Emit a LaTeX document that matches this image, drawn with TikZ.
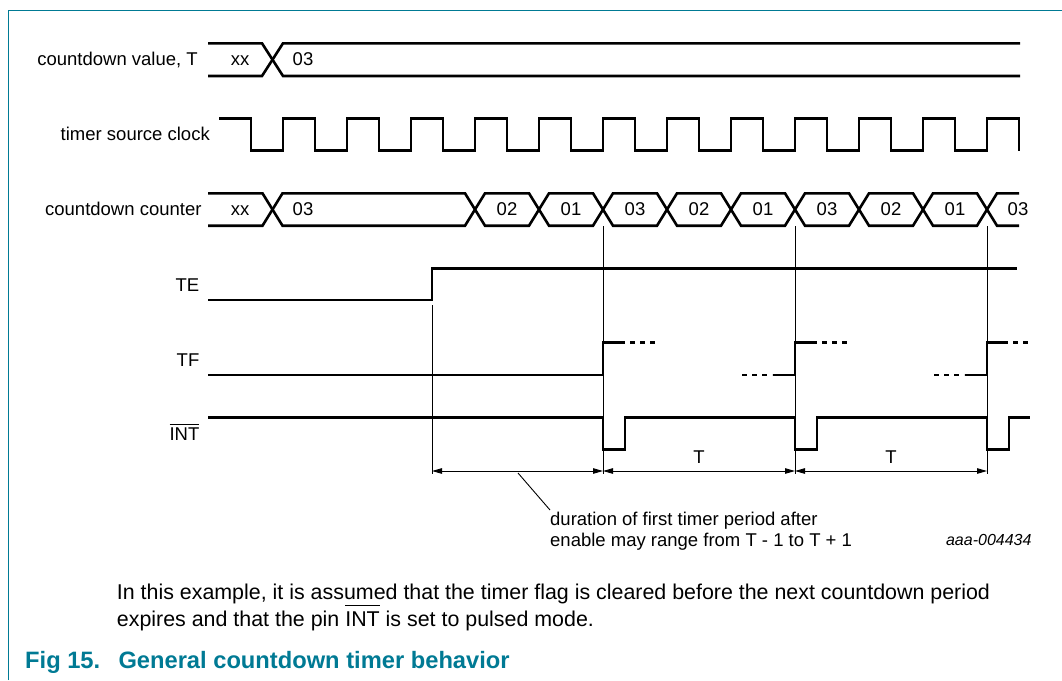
\documentclass[tikz,border=0pt]{standalone}
\usepackage{fontspec}
\setmainfont{Liberation Sans}
\usetikzlibrary{arrows.meta}
\definecolor{nxpteal}{RGB}{0,122,148}
\newcommand\ovl[2][1.8pt]{\leavevmode\vbox{\hrule height 1.1pt\kern #1\hbox{#2}}}
\begin{document}
\begin{tikzpicture}[x=1pt,y=-1pt,
  sig/.style={line width=2.6pt, line join=miter},
  thinline/.style={line width=0.9pt},
  lab/.style={font=\fontsize{18.5}{22}\selectfont, inner sep=0pt, anchor=base east},
  val/.style={font=\fontsize{18.5}{22}\selectfont, inner sep=0pt, anchor=base},
  note/.style={font=\fontsize{18.5}{22}\selectfont, inner sep=0pt, anchor=base west},
  body/.style={font=\fontsize{21.4}{25}\selectfont, inner sep=0pt, anchor=base west},
  figcaption/.style={font=\fontsize{23.7}{28}\selectfont\bfseries, text=nxpteal, inner sep=0pt, anchor=base west},
  dimarrow/.style={line width=0.9pt, {Triangle[length=10pt,width=5.5pt]}-{Triangle[length=10pt,width=5.5pt]}},
  dsh/.style={line width=2.6pt, dash pattern=on 5pt off 5pt},
]
\useasboundingbox (0,0) rectangle (1062,680);
% frame
\draw[nxpteal, line width=1.5pt] (8.5,680) -- (8.5,10.7) -- (1062,10.7);

% labels
\node[lab] (lval) at (198,65.5) {countdown value, T};
\node[lab] (lclk) at (210,140) {timer source clock};
\node[lab] (lcnt) at (201.7,215) {countdown counter};
\node[lab] (lte) at (199.5,291) {TE};
\node[lab] (ltf) at (199.5,366) {TF};
\node[lab] (lint) at (199.5,440) {\ovl{INT}};

% countdown value bus
\draw[sig] (208,43.3) -- (262,43.3) -- (283,76) -- (1020,76);
\draw[sig] (208,76) -- (262,76) -- (283,43.3) -- (1020,43.3);
\node[val] (vxx) at (240,65) {xx};
\node[val] (v03) at (303,65) {03};

% clock
\draw[sig] (219,118.3) foreach \k in {0,...,11} { -- (251+64*\k,118.3) -- (251+64*\k,150.7) -- (283+64*\k,150.7) -- (283+64*\k,118.3) } -- (1019,118.3) -- (1019,150.7);

% countdown counter bus
\draw[sig] (208,193.3) -- (262.5,193.3) -- (282.5,225.7) -- (465,225.7) -- (485,193.3) -- (529,193.3) -- (549,225.7) -- (593,225.7) -- (613,193.3) -- (657,193.3) -- (677,225.7) -- (721,225.7) -- (741,193.3) -- (785,193.3) -- (805,225.7) -- (849,225.7) -- (869,193.3) -- (913,193.3) -- (933,225.7) -- (977,225.7) -- (997,193.3) -- (1019,193.3);
\draw[sig] (208,225.7) -- (262.5,225.7) -- (282.5,193.3) -- (465,193.3) -- (485,225.7) -- (529,225.7) -- (549,193.3) -- (593,193.3) -- (613,225.7) -- (657,225.7) -- (677,193.3) -- (721,193.3) -- (741,225.7) -- (785,225.7) -- (805,193.3) -- (849,193.3) -- (869,225.7) -- (913,225.7) -- (933,193.3) -- (977,193.3) -- (997,225.7) -- (1019,225.7);
\node[val] (cxx) at (240,215.5) {xx};
\node[val] (c03a) at (303,215.5) {03};
\node[val] (c02a) at (507,215.5) {02};
\node[val] (c01a) at (571,215.5) {01};
\node[val] (c03b) at (635,215.5) {03};
\node[val] (c02b) at (699,215.5) {02};
\node[val] (c01b) at (763,215.5) {01};
\node[val] (c03c) at (827,215.5) {03};
\node[val] (c02c) at (891,215.5) {02};
\node[val] (c01c) at (955,215.5) {01};
\node[val] (c03d) at (1018,215.5) {03};

% TE
\draw[sig] (208,300) -- (432,300) -- (432,268.3) -- (1017,268.3);

% TF
\draw[sig] (208,375) -- (603,375) -- (603,342.7) -- (625,342.7);
\draw[dsh] (630,342.7) -- (657,342.7);
\draw[dsh] (742,375) -- (772,375);
\draw[sig] (773,375) -- (795,375) -- (795,342.7) -- (817,342.7);
\draw[dsh] (822,342.7) -- (849,342.7);
\draw[dsh] (934,375) -- (964,375);
\draw[sig] (965,375) -- (987,375) -- (987,342.7) -- (1008,342.7);
\draw[dsh] (1013,342.7) -- (1031,342.7);

% INT
\draw[sig] (208,417.7) -- (603,417.7) -- (603,449.3) -- (625,449.3) -- (625,417.7) -- (795,417.7) -- (795,449.3) -- (817,449.3) -- (817,417.7) -- (987,417.7) -- (987,449.3) -- (1009,449.3) -- (1009,417.7) -- (1030,417.7);

% reference lines
\coordinate (t0) at (432,305);
\coordinate (t1) at (603,226);
\coordinate (t2) at (795,226);
\coordinate (t3) at (987,226);
\coordinate (b0) at (432,474);
\coordinate (b1) at (603,474);
\coordinate (b2) at (795,474);
\coordinate (b3) at (987,474);
\draw[thinline] (t0) -- (b0);
\draw[thinline] (t1) -- (b1);
\draw[thinline] (t2) -- (b2);
\draw[thinline] (t3) -- (b3);

% dimension arrows
\coordinate (a0) at (432,471);
\coordinate (a1) at (603,471);
\coordinate (a2) at (795,471);
\coordinate (a3) at (987,471);
\draw[dimarrow] (a0) -- (a1);
\draw[dimarrow] (a1) -- (a2);
\draw[dimarrow] (a2) -- (a3);
\node[val] (tA) at (699,463.5) {T};
\node[val] (tB) at (891,463.5) {T};

% leader and note
\coordinate (ld0) at (518,473);
\coordinate (ld1) at (550,510);
\draw[thinline] (ld0) -- (ld1);
\node[note] (n1) at (550,525) {duration of first timer period after};
\node[note] (n2) at (550,546.5) {enable may range from T - 1 to T + 1};
\node[font=\fontsize{16}{19}\selectfont\itshape, inner sep=0pt, anchor=base east] (code) at (1031.7,545.5) {aaa-004434};

% body text
\node[body] (p1) at (116.7,599.5) {In this example, it is assumed that the timer flag is cleared before the next countdown period};
\node[body] (p2) at (116.7,626.5) {expires and that the pin \ovl[5.5pt]{INT} is set to pulsed mode.};

% caption
\node[figcaption] (fig) at (25,668.3) {Fig 15.};
\node[figcaption] (title) at (118.3,668.3) {General countdown timer behavior};
\end{tikzpicture}
\end{document}
